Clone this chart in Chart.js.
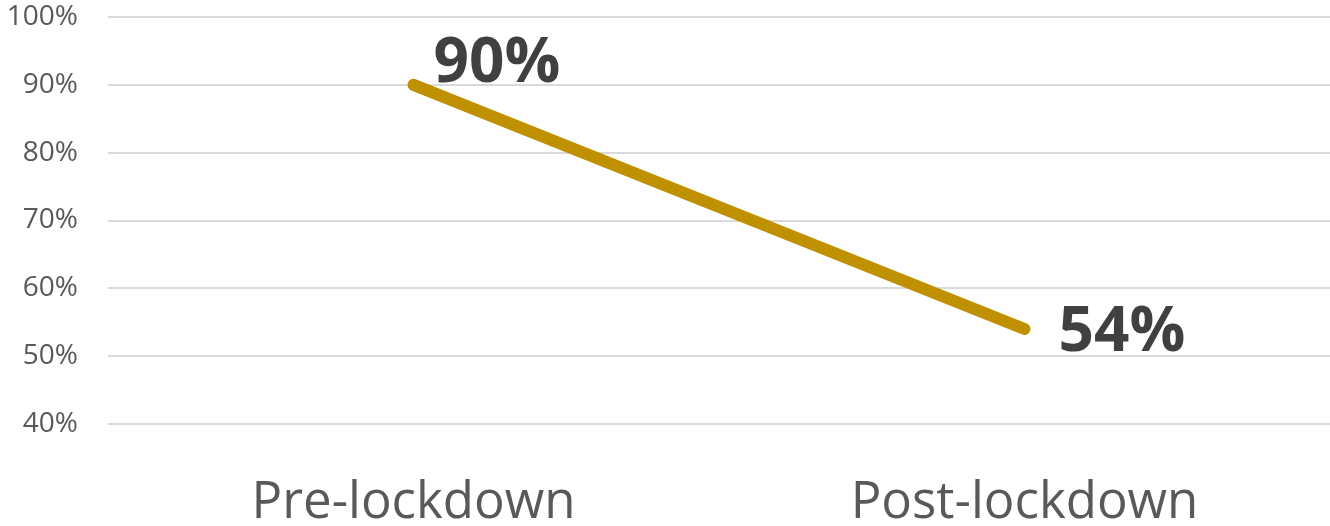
<!DOCTYPE html>
<html>
<head>
<meta charset="utf-8">
<script src="https://cdn.jsdelivr.net/npm/chart.js@4"></script>
<style>
  html, body { margin: 0; padding: 0; background: #ffffff; }
  #wrap { width: 1330px; height: 526px; position: relative; }
</style>
</head>
<body>
<div id="wrap"><canvas id="chart"></canvas></div>
<script>
// Share of respondents, before and after lockdown
const categories = ['Pre-lockdown', 'Post-lockdown'];
const shareValues = [90, 54];
const yTicks = [40, 50, 60, 70, 80, 90, 100];

// Value labels next to each point (offsets in px relative to the point)
const labelPlacement = [
  { dx: 20, dy: -3, baseline: 'alphabetic' },
  { dx: 34, dy: 4, baseline: 'middle' }
];

const valueLabels = {
  id: 'valueLabels',
  afterDatasetsDraw(chart) {
    const ctx = chart.ctx;
    const meta = chart.getDatasetMeta(0);
    ctx.save();
    ctx.font = 'bold 62px "Open Sans"';
    ctx.fillStyle = '#404040';
    ctx.textAlign = 'left';
    meta.data.forEach((pt, i) => {
      const p = labelPlacement[i];
      ctx.textBaseline = p.baseline;
      ctx.fillText(shareValues[i] + '%', pt.x + p.dx, pt.y + p.dy);
    });
    ctx.restore();
  }
};

new Chart(document.getElementById('chart'), {
  type: 'line',
  data: {
    labels: categories,
    datasets: [{
      data: shareValues,
      borderColor: '#BF9000',
      borderWidth: 12,
      borderCapStyle: 'round',
      pointRadius: 0,
      pointHoverRadius: 0,
      tension: 0,
      fill: false
    }]
  },
  options: {
    responsive: true,
    maintainAspectRatio: false,
    animation: false,
    events: [],
    layout: { padding: { top: 17, right: 0, bottom: 0, left: 0 } },
    plugins: {
      legend: { display: false },
      tooltip: { enabled: false }
    },
    scales: {
      x: {
        type: 'category',
        offset: true,
        grid: { display: false, drawTicks: false },
        border: { display: false },
        ticks: {
          color: '#595959',
          font: { family: '"Open Sans"', size: 51 },
          padding: 49,
          maxRotation: 0
        },
        afterFit(scale) {
          scale.height = 102;
          scale.paddingLeft = 0;
          scale.paddingRight = 0;
        }
      },
      y: {
        min: 40,
        max: 100,
        afterBuildTicks(scale) { scale.ticks = yTicks.map(v => ({ value: v })); },
        grid: { color: '#d9d9d9', lineWidth: 2, drawTicks: false },
        border: { display: false },
        ticks: {
          color: '#595959',
          font: { family: '"Open Sans"', size: 28 },
          padding: 30,
          callback: v => v + '%'
        },
        afterFit(scale) {
          scale.width = 108;
          scale.paddingTop = 0;
          scale.paddingBottom = 0;
        }
      }
    }
  },
  plugins: [valueLabels]
});
</script>
</body>
</html>
